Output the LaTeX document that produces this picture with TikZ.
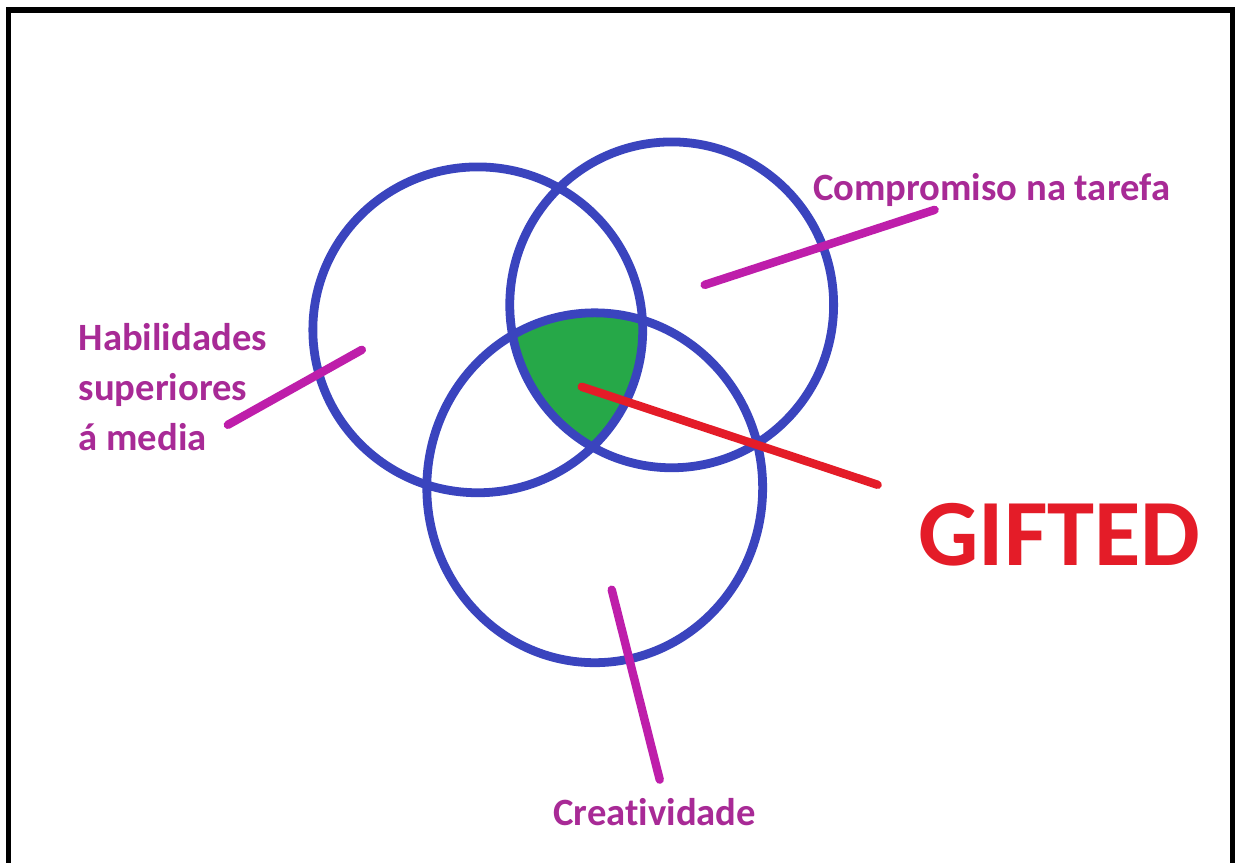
\documentclass[tikz,border=0pt]{standalone}
\usepackage{fontspec}
\setmainfont{Carlito}[Ligatures={NoCommon,NoRare}]
\usepackage{tikz}
\usetikzlibrary{positioning}
\usepackage{xcolor}
\definecolor{RingBlue}{RGB}{58,68,190}
\definecolor{CoreGreen}{RGB}{38,168,72}
\definecolor{LabelPurple}{RGB}{168,42,150}
\definecolor{PointerMagenta}{RGB}{190,30,170}
\definecolor{GiftRed}{RGB}{228,28,40}
\tikzset{
  ring/.style={draw=RingBlue, line width=2.5pt},
  pointer/.style={PointerMagenta, line width=2.4pt, line cap=round},
  redpointer/.style={GiftRed, line width=2.4pt, line cap=round},
  label/.style={text=LabelPurple, font=\fontsize{11}{14.2}\selectfont\bfseries,
    inner sep=0pt, align=left},
  gifted/.style={text=GiftRed, font=\fontsize{27}{30}\selectfont\bfseries,
    inner sep=0pt}
}

\begin{document}
\begin{tikzpicture}[x=0.1mm, y=-0.1mm]
      \fill[white] (0,0) rectangle (1235,863);
      % frame
      \draw[line width=1.45pt] (8.5,863) -- (8.5,10) -- (1233,10) -- (1233,863);
      % core of the three sets
      \begin{scope}
        \clip (478,330) ellipse [x radius=165, y radius=163];
        \clip (672,305) ellipse [x radius=162, y radius=163];
        \fill[CoreGreen] (595,488) ellipse [x radius=168, y radius=175];
      \end{scope}
      \draw[ring] (478,330) ellipse [x radius=165, y radius=163];
      \draw[ring] (672,305) ellipse [x radius=162, y radius=163];
      \draw[ring] (595,488) ellipse [x radius=168, y radius=175];
      % labels
      \node[label, anchor=west] (hab) at (78,387) {Habilidades\\superiores\\á media};
      \node[label] (comp) at (992,190) {Compromiso na tarefa};
      \node[label] (crea) at (655,812) {Creatividade};
      \node[gifted] (gift) at (1060,535) {GIFTED};
      % pointers
      \coordinate (habA) at (228,425);
      \coordinate (habB) at (362,350);
      \coordinate (compA) at (705,285);
      \coordinate (compB) at (935,210);
      \coordinate (creaA) at (612,590);
      \coordinate (creaB) at (660,780);
      \coordinate (giftA) at (582,387);
      \coordinate (giftB) at (878,485);
      \draw[pointer] (habA) -- (habB);
      \draw[pointer] (compA) -- (compB);
      \draw[pointer] (creaA) -- (creaB);
      \draw[redpointer] (giftA) -- (giftB);
    \end{tikzpicture}
\end{document}
